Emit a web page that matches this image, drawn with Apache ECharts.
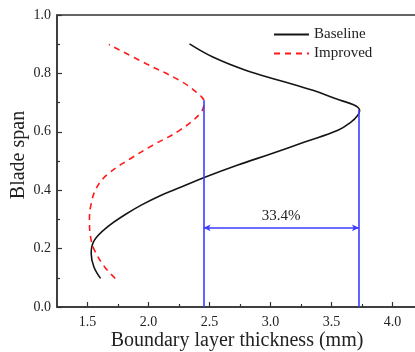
<!DOCTYPE html>
<html>
<head>
<meta charset="utf-8">
<script src="https://cdn.jsdelivr.net/npm/echarts@6/dist/echarts.min.js"></script>
<style>
html,body{margin:0;padding:0;background:#fff;}
#c{width:415px;height:352px;}
</style>
</head>
<body>
<div id="c"></div>
<script>
// Baseline curve: [thickness (mm), blade span]
var baseline = [
  [1.607,0.098],[1.552,0.138],[1.530,0.184],[1.557,0.229],[1.666,0.275],
  [1.803,0.315],[1.940,0.349],[2.104,0.383],[2.268,0.411],[2.467,0.445],
  [2.732,0.486],[3.006,0.525],[3.279,0.565],[3.552,0.605],[3.661,0.634],
  [3.712,0.655],[3.730,0.672],[3.715,0.684],[3.680,0.693],[3.566,0.709],
  [3.347,0.742],[3.074,0.776],[2.801,0.810],[2.527,0.856],[2.336,0.901]
];
// Improved curve
var improved = [
  [1.727,0.098],[1.639,0.138],[1.557,0.195],[1.525,0.240],[1.516,0.297],
  [1.525,0.343],[1.571,0.406],[1.666,0.455],[1.844,0.506],[2.035,0.554],
  [2.254,0.605],[2.425,0.664],[2.455,0.702],[2.391,0.736],[2.254,0.776],
  [1.981,0.833],[1.675,0.899]
];
var seriesNames = ['Baseline','Improved'];
// Axis ticks
var xMajorTicks = [1.5,2.0,2.5,3.0,3.5,4.0];
var xMinorTicks = [1.75,2.25,2.75,3.25,3.75];
var yTicks = [0.0,0.2,0.4,0.6,0.8,1.0];
// Annotation values
var improvedPeak = [2.451,0.708];
var baselinePeak = [3.724,0.675];
var arrowSpan = 0.271;
var arrowLabel = '33.4%';

var FONT = '"Liberation Serif","Times New Roman",serif';
var AX = '#333';
var BLUE = '#3c3cff';

var chart = echarts.init(document.getElementById('c'), null, {renderer:'canvas'});
chart.setOption({
  backgroundColor:'#fff',
  animation:false,
  grid:{left:57, top:15, bottom:45, right:-2, outerBoundsMode:'none', containLabel:false,
    show:true, borderColor:AX, borderWidth:1.5, backgroundColor:'transparent'},
  legend:{
    data:seriesNames, orient:'vertical', left:268, top:22,
    itemWidth:35, itemHeight:14, itemGap:4,
    itemStyle:{opacity:0},
    textStyle:{fontFamily:FONT, fontSize:15, color:'#222'}
  },
  xAxis:[{
    type:'value', min:1.25, max:4.2, position:'bottom',
    axisLine:{lineStyle:{color:AX, width:1.5}},
    axisTick:{inside:true, length:5, customValues:xMajorTicks, lineStyle:{color:AX, width:1.2}},
    axisLabel:{customValues:xMajorTicks, formatter:function(v){return Number(v).toFixed(1);},
      fontFamily:FONT, fontSize:14, color:'#222', margin:8},
    splitLine:{show:false},
    name:'Boundary layer thickness (mm)', nameLocation:'middle', nameGap:24, nameMoveOverlap:false,
    nameTextStyle:{fontFamily:FONT, fontSize:20, color:'#222'}
  },{
    type:'value', min:1.25, max:4.2, position:'bottom',
    axisLine:{show:false},
    axisTick:{inside:true, length:3, customValues:xMinorTicks, lineStyle:{color:AX, width:1.2}},
    axisLabel:{show:false},
    splitLine:{show:false}
  }],
  yAxis:{
    type:'value', min:0, max:1, interval:0.2,
    axisLine:{show:true, lineStyle:{color:AX, width:1.5}},
    axisTick:{show:true, inside:true, length:5, lineStyle:{color:AX, width:1.2}},
    minorTick:{show:true, splitNumber:2, length:3, lineStyle:{color:AX, width:1.2}},
    axisLabel:{formatter:function(v){return Number(v).toFixed(1);},
      fontFamily:FONT, fontSize:14, color:'#222', margin:6},
    splitLine:{show:false},
    name:'Blade span', nameLocation:'middle', nameGap:28, nameMoveOverlap:false,
    nameTextStyle:{fontFamily:FONT, fontSize:20, color:'#222', padding:[0,0,0,12]}
  },
  series:[{
    name:seriesNames[0], type:'line', xAxisIndex:0, data:baseline, smooth:0.4,
    symbol:'circle', showSymbol:false, lineStyle:{color:'#151515', width:1.6}, itemStyle:{color:'#151515'}
  },{
    name:seriesNames[1], type:'line', xAxisIndex:0, data:improved, smooth:0.4,
    symbol:'circle', showSymbol:false, lineStyle:{color:'#ff1a1a', width:1.6, type:[6,5]}, itemStyle:{color:'#ff1a1a'}
  },{
    name:'annot', type:'line', xAxisIndex:0, data:[],
    markLine:{
      silent:true, symbol:['none','none'], animation:false,
      lineStyle:{color:BLUE, width:1.6, type:'solid'},
      label:{show:false},
      data:[
        [{coord:[improvedPeak[0],0]},{coord:[improvedPeak[0],improvedPeak[1]]}],
        [{coord:[baselinePeak[0],0]},{coord:[baselinePeak[0],baselinePeak[1]]}]
      ]
    }
  },{
    name:'arrow', type:'line', xAxisIndex:0, data:[],
    markLine:{
      silent:true, symbol:['arrow','arrow'], symbolSize:[5,7], animation:false,
      lineStyle:{color:BLUE, width:1.6, type:'solid'},
      label:{show:true, position:'middle', formatter:arrowLabel, distance:4,
        fontFamily:FONT, fontSize:15, color:'#222'},
      data:[[{coord:[improvedPeak[0],arrowSpan]},{coord:[baselinePeak[0],arrowSpan]}]]
    }
  }]
});
</script>
</body>
</html>
